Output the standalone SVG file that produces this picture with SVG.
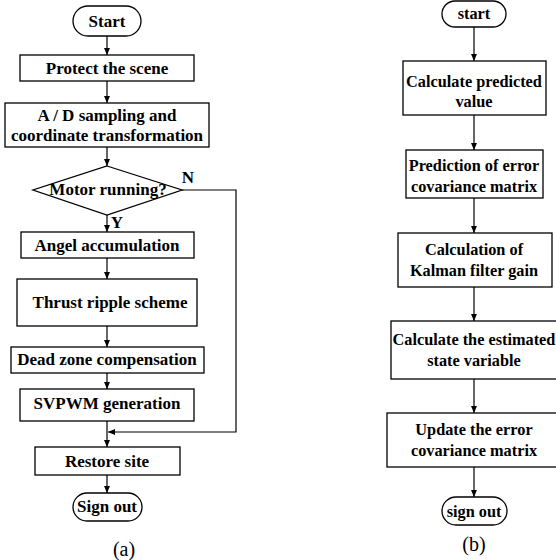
<svg xmlns="http://www.w3.org/2000/svg" width="556" height="560" viewBox="0 0 556 560">
<defs>
<marker id="ah" markerWidth="8" markerHeight="8" refX="7" refY="4" orient="auto" markerUnits="userSpaceOnUse">
<path d="M0,1 L7,4 L0,7 Z" fill="#000"/>
</marker>
<style>
.b{fill:#fff;stroke:#000;stroke-width:1.3}
.t{font-family:"Liberation Serif","Times New Roman","DejaVu Serif",serif;font-weight:bold;font-size:17px;text-anchor:middle;fill:#000}
.r{font-size:16.3px}
.c{fill:none;stroke:#000;stroke-width:1.2}
.cap{font-family:"Liberation Serif","Times New Roman","DejaVu Serif",serif;font-size:20px;text-anchor:middle;fill:#000}
</style>
</defs>
<rect width="556" height="560" fill="#fff"/>
<g id="connectors">
<line class="c" x1="107" y1="36" x2="107" y2="55" marker-end="url(#ah)"/>
<line class="c" x1="107" y1="81" x2="107" y2="103" marker-end="url(#ah)"/>
<line class="c" x1="107" y1="147" x2="107" y2="166" marker-end="url(#ah)"/>
<line class="c" x1="107" y1="215" x2="107" y2="232" marker-end="url(#ah)"/>
<line class="c" x1="107" y1="258" x2="107" y2="279" marker-end="url(#ah)"/>
<line class="c" x1="107" y1="326" x2="107" y2="347" marker-end="url(#ah)"/>
<line class="c" x1="107" y1="373" x2="107" y2="389" marker-end="url(#ah)"/>
<line class="c" x1="107" y1="421" x2="107" y2="447" marker-end="url(#ah)"/>
<line class="c" x1="107" y1="475" x2="107" y2="493" marker-end="url(#ah)"/>
<polyline class="c" points="182,190 236,190 236,432 108,432" marker-end="url(#ah)"/>
<line class="c" x1="474" y1="27" x2="474" y2="61" marker-end="url(#ah)"/>
<line class="c" x1="474" y1="115" x2="474" y2="150" marker-end="url(#ah)"/>
<line class="c" x1="474" y1="198" x2="474" y2="233" marker-end="url(#ah)"/>
<line class="c" x1="474" y1="287" x2="474" y2="321" marker-end="url(#ah)"/>
<line class="c" x1="474" y1="379" x2="474" y2="413" marker-end="url(#ah)"/>
<line class="c" x1="474" y1="467" x2="474" y2="497" marker-end="url(#ah)"/>
<text class="t" x="188" y="183" font-size="14">N</text>
<text class="t" x="117" y="228" font-size="14">Y</text>
</g>
<g id="a-start"><rect class="b" x="73" y="6" width="68" height="30" rx="15"/><text class="t" x="107" y="27">Start</text></g>
<g id="a-protect"><rect class="b" x="20" y="55" width="174" height="26"/><text class="t" x="107" y="74">Protect the scene</text></g>
<g id="a-ad"><rect class="b" x="5" y="103" width="204" height="44"/><text class="t" x="107" y="121">A / D sampling and</text><text class="t" x="107" y="141">coordinate transformation</text></g>
<g id="a-motor"><polygon class="b" points="107,166 182,190 107,215 33,190"/><text class="t" x="108" y="195" font-size="15.5">Motor running?</text></g>
<g id="a-angel"><rect class="b" x="21" y="232" width="173" height="26"/><text class="t" x="107" y="251">Angel accumulation</text></g>
<g id="a-thrust"><rect class="b" x="17" y="279" width="180" height="47"/><text class="t" x="110" y="308">Thrust ripple scheme</text></g>
<g id="a-dead"><rect class="b" x="11" y="347" width="193" height="26"/><text class="t" x="107" y="365">Dead zone compensation</text></g>
<g id="a-svpwm"><rect class="b" x="20" y="389" width="174" height="32"/><text class="t" x="107" y="409">SVPWM generation</text></g>
<g id="a-restore"><rect class="b" x="35" y="447" width="145" height="28"/><text class="t" x="107" y="467">Restore site</text></g>
<g id="a-signout"><rect class="b" x="73" y="493" width="69" height="28" rx="14"/><text class="t" x="107" y="512">Sign out</text></g>
<text class="cap" x="124" y="556">(a)</text>
<g id="b-start"><rect class="b" x="442" y="1" width="64" height="26" rx="13"/><text class="t r" x="474" y="19">start</text></g>
<g id="b-calc"><rect class="b" x="403" y="61" width="143" height="54"/><text class="t r" x="474" y="87">Calculate predicted</text><text class="t r" x="474" y="107">value</text></g>
<g id="b-pred"><rect class="b" x="406" y="150" width="137" height="48"/><text class="t r" x="474" y="171">Prediction of error</text><text class="t r" x="474" y="192">covariance matrix</text></g>
<g id="b-kalman"><rect class="b" x="398" y="233" width="154" height="54"/><text class="t r" x="474" y="255">Calculation of</text><text class="t r" x="474" y="276">Kalman filter gain</text></g>
<g id="b-est"><rect class="b" x="391" y="321" width="170" height="58"/><text class="t r" x="474" y="345">Calculate the estimated</text><text class="t r" x="474" y="366">state variable</text></g>
<g id="b-update"><rect class="b" x="387" y="413" width="174" height="54"/><text class="t r" x="474" y="435">Update the error</text><text class="t r" x="474" y="456">covariance matrix</text></g>
<g id="b-signout"><rect class="b" x="442" y="497" width="65" height="28" rx="14"/><text class="t r" x="474" y="517">sign out</text></g>
<text class="cap" x="474" y="551">(b)</text>
</svg>
